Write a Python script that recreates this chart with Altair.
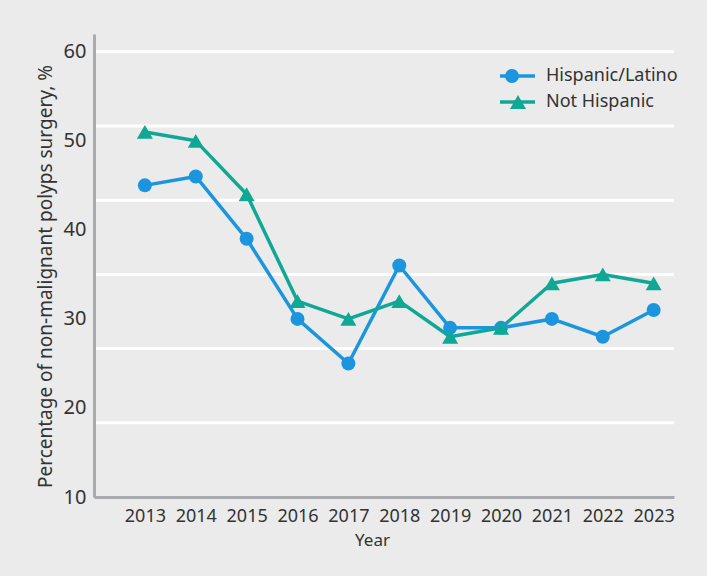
import altair as alt
import pandas as pd

# Share of non-malignant polyps treated surgically, by ethnicity
years = list(range(2013, 2024))
hispanic_latino = [45, 46, 39, 30, 25, 36, 29, 29, 30, 28, 31]
not_hispanic = [51, 50, 44, 32, 30, 32, 28, 29, 34, 35, 34]

series_names = ["Hispanic/Latino", "Not Hispanic"]
series_colors = ["#1b96de", "#10a795"]
series_shapes = ["circle", "triangle-up"]
marker_sizes = [196, 256]

y_ticks = [10, 20, 30, 40, 50, 60]
grid_levels = [18.333, 26.667, 35.0, 43.333, 51.667, 60.0]

FONT = "Noto Sans"
TEXT = "#333333"
AXIS_GRAY = "#a9abae"
BG = "#eaebea"
W, H = 580, 463

df = pd.DataFrame({
    "Year": years * 2,
    "value": hispanic_latino + not_hispanic,
    "series": [series_names[0]] * len(years) + [series_names[1]] * len(years),
})

x_scale = alt.Scale(domain=[2012, 2023.4], nice=False, zero=False)
y_scale = alt.Scale(domain=[10, 62], nice=False, zero=False)
color_scale = alt.Scale(domain=series_names, range=series_colors)
shape_scale = alt.Scale(domain=series_names, range=series_shapes)
size_scale = alt.Scale(domain=series_names, range=marker_sizes)

x_axis = alt.Axis(
    title="Year", values=years, format="d", ticks=False, grid=False,
    labelFontSize=18, labelPadding=10, labelColor=TEXT, labelFont=FONT,
    domainColor=AXIS_GRAY, domainWidth=3, titleFontSize=17, titleFont=FONT,
    titleFontWeight="normal", titleColor=TEXT, titlePadding=7, titleX=278,
    zindex=1,
)
y_axis = alt.Axis(
    title="Percentage of non-malignant polyps surgery, %", values=y_ticks,
    ticks=False, grid=False, labelFontSize=20, labelPadding=8,
    labelColor=TEXT, labelFont=FONT, domainColor=AXIS_GRAY, domainWidth=3,
    titleFontSize=19, titleFont=FONT, titleFontWeight="normal",
    titleColor=TEXT, titlePadding=8, titleY=242, zindex=1,
)

grid = alt.Chart(pd.DataFrame({"level": grid_levels})).mark_rule(
    color="white", strokeWidth=3
).encode(
    y=alt.Y("level:Q", scale=y_scale, axis=y_axis),
    x=alt.value(0),
    x2=alt.value(W),
)

lines = alt.Chart(df).mark_line(strokeWidth=3.5, strokeJoin="round").encode(
    x=alt.X("Year:Q", scale=x_scale, axis=x_axis),
    y=alt.Y("value:Q", scale=y_scale, axis=y_axis),
    color=alt.Color("series:N", scale=color_scale, legend=None),
    detail="series:N",
)

points = alt.Chart(df).mark_point(filled=True, opacity=1).encode(
    x=alt.X("Year:Q", scale=x_scale, axis=x_axis),
    y=alt.Y("value:Q", scale=y_scale, axis=y_axis),
    color=alt.Color("series:N", scale=color_scale, legend=None),
    shape=alt.Shape("series:N", scale=shape_scale, legend=None),
    size=alt.Size("series:N", scale=size_scale, legend=None),
)

# Hand-drawn legend: line segment with marker, then label
legend_layers = []
legend_rows = [42, 68]
for name, color, shape, msize, ly, mx in zip(
    series_names, series_colors, series_shapes, marker_sizes, legend_rows, [418, 424]
):
    base = alt.Chart(pd.DataFrame({"series": [name]}))
    legend_layers.append(
        base.mark_rule(color=color, strokeWidth=3.5).encode(
            x=alt.value(406), x2=alt.value(441), y=alt.value(ly)
        )
    )
    legend_layers.append(
        base.mark_point(filled=True, opacity=1, size=msize, color=color, shape=shape).encode(
            x=alt.value(mx), y=alt.value(ly)
        )
    )
    legend_layers.append(
        base.mark_text(align="left", baseline="middle", fontSize=18, font=FONT, color=TEXT).encode(
            x=alt.value(452), y=alt.value(ly), text="series:N"
        )
    )

chart = alt.layer(grid, lines, points, *legend_layers).properties(
    width=W,
    height=H,
    autosize=alt.AutoSizeParams(type="none"),
    padding={"left": 94, "top": 34, "right": 33, "bottom": 79},
).configure(background=BG).configure_view(stroke=None, fill=BG)

chart.save("out.html", embed_options={"renderer": "svg", "actions": False})
